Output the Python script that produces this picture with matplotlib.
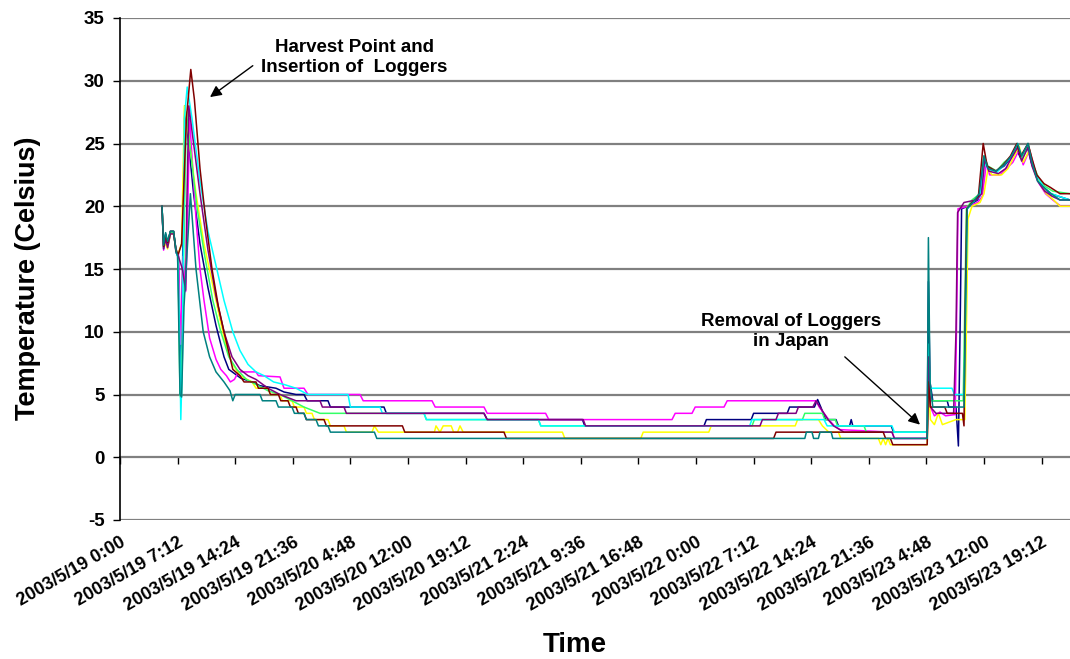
import matplotlib
matplotlib.use('Agg')
import matplotlib.pyplot as plt

# hours after 2003/5/19 0:00, temperature in Celsius
navy = [(5.25, 20.0), (5.45, 16.8), (5.7, 17.8), (5.95, 17.0), (6.3, 18.0), (6.7, 18.0), (7.0, 16.3), (7.3, 16.0),
        (7.55, 6.0), (7.75, 12.0), (8.1, 28.0), (8.5, 25.5), (9.2, 21.0), (10.0, 17.0), (11.0, 13.5), (12.0, 10.5),
        (13.0, 8.0), (13.6, 7.0), (15.1, 6.3), (16.5, 6.0), (17.5, 5.7), (19.5, 5.5), (20.5, 5.2), (22.0, 5.0),
        (23.0, 5.0), (23.4, 4.5), (26.0, 4.5), (26.3, 4.0), (33.0, 4.0), (33.3, 3.5), (45.5, 3.5), (45.9, 3.0),
        (57.8, 3.0), (58.1, 2.5), (73.0, 2.5), (73.3, 3.0), (78.9, 3.0), (79.2, 3.5), (83.4, 3.5), (83.7, 4.0),
        (86.8, 4.0), (87.2, 4.6), (87.6, 4.0), (88.2, 3.0), (89.5, 3.0), (89.8, 2.5), (91.2, 2.5), (91.4, 3.0),
        (91.6, 2.5), (96.4, 2.5), (96.7, 2.0), (100.9, 2.0), (101.05, 14.0), (101.25, 6.0), (101.6, 4.5),
        (103.4, 4.5), (103.6, 4.0), (104.5, 4.0), (104.8, 0.9), (105.05, 12.0), (105.2, 19.8), (106.0, 20.0),
        (107.2, 20.5), (107.6, 21.0), (108.0, 24.0), (108.5, 23.0), (109.5, 22.8), (110.5, 23.2), (111.3, 23.8),
        (112.1, 24.5), (112.6, 23.8), (113.4, 24.8), (113.9, 23.5), (114.6, 22.3), (115.4, 21.5), (116.3, 21.0),
        (118.75, 20.5)]

magenta = [(5.25, 20.0), (5.45, 16.5), (5.7, 17.5), (5.95, 16.8), (6.3, 17.8), (6.7, 17.8), (7.0, 16.5), (7.3, 16.2),
           (7.6, 9.0), (7.9, 16.0), (8.2, 13.2), (8.35, 16.0), (8.7, 27.0), (9.0, 24.0), (9.5, 19.0), (10.0, 15.0),
           (10.5, 12.5), (11.2, 9.5), (12.0, 7.8), (12.6, 7.0), (13.3, 6.5), (13.8, 6.0), (14.3, 6.2), (14.8, 6.8),
           (17.0, 6.8), (17.3, 6.5), (20.0, 6.4), (20.5, 5.5), (23.0, 5.5), (23.5, 5.0), (30.0, 5.0), (30.4, 4.5),
           (39.0, 4.5), (39.4, 4.0), (45.5, 4.0), (45.9, 3.5), (53.2, 3.5), (53.6, 3.0), (69.0, 3.0), (69.4, 3.5),
           (71.5, 3.5), (71.9, 4.0), (75.5, 4.0), (75.9, 4.5), (87.0, 4.5), (87.4, 4.0), (88.0, 3.5), (88.6, 3.0),
           (89.3, 2.5), (90.0, 2.2), (96.5, 2.0), (96.8, 1.5), (100.9, 1.5), (101.05, 7.0), (101.3, 4.0),
           (101.8, 3.3), (102.5, 3.6), (103.2, 3.3), (104.4, 3.4), (104.6, 12.0), (104.75, 19.8), (106.0, 20.0),
           (107.2, 20.3), (107.8, 20.8), (108.3, 23.5), (108.7, 22.5), (110.0, 22.5), (110.8, 23.0), (111.6, 23.5),
           (112.4, 24.5), (112.9, 23.3), (113.7, 24.5), (114.3, 23.0), (114.9, 21.8), (115.7, 21.0), (116.6, 20.5),
           (117.6, 20.0), (118.75, 20.0)]

yellow = [(5.25, 20.0), (5.45, 16.8), (5.7, 17.0), (5.95, 16.6), (6.3, 17.8), (6.7, 17.8), (7.0, 16.5), (7.3, 16.3),
          (7.7, 17.0), (8.05, 28.0), (8.6, 25.5), (9.5, 21.0), (10.5, 17.0), (11.5, 14.0), (12.5, 11.0), (13.3, 8.8),
          (14.0, 7.5), (15.0, 6.5), (16.5, 6.0), (17.0, 5.5), (18.5, 5.5), (18.8, 5.0), (20.0, 5.0), (20.3, 4.5),
          (21.5, 4.5), (21.8, 4.0), (23.0, 4.0), (23.3, 3.5), (24.0, 3.5), (24.3, 3.0), (26.0, 3.0), (26.3, 2.5),
          (28.0, 2.5), (28.3, 2.0), (31.5, 2.0), (31.8, 2.5), (32.3, 2.0), (39.3, 2.0), (39.5, 2.5), (40.0, 2.0),
          (40.4, 2.5), (41.4, 2.5), (41.7, 2.0), (42.2, 2.0), (42.5, 2.5), (42.9, 2.0), (55.3, 2.0), (55.6, 1.5),
          (65.1, 1.5), (65.4, 2.0), (73.6, 2.0), (73.9, 2.5), (84.4, 2.5), (84.7, 3.0), (87.3, 3.0), (87.8, 2.5),
          (88.6, 2.0), (89.8, 2.0), (90.1, 1.5), (94.8, 1.5), (95.1, 1.0), (95.4, 1.5), (95.7, 1.0), (96.0, 1.5),
          (96.3, 1.0), (100.9, 1.0), (101.05, 6.0), (101.3, 3.0), (101.8, 2.6), (102.3, 3.5), (102.8, 2.6),
          (104.5, 3.0), (105.6, 3.0), (105.85, 12.0), (106.0, 19.0), (106.5, 20.0), (107.5, 20.3), (108.0, 21.0),
          (108.5, 23.0), (109.0, 22.5), (110.2, 22.5), (111.0, 23.0), (111.8, 24.0), (112.4, 24.8), (112.9, 23.5),
          (113.7, 24.5), (114.3, 22.8), (115.0, 21.8), (115.8, 21.0), (116.7, 20.5), (117.5, 20.0), (118.75, 20.0)]

green = [(5.25, 20.0), (5.45, 16.7), (5.7, 17.5), (5.95, 16.9), (6.3, 17.9), (6.7, 17.9), (7.0, 16.5), (7.25, 16.0),
         (7.5, 5.0), (7.65, 4.5), (7.9, 14.0), (8.3, 27.5), (8.8, 24.5), (9.6, 20.0), (10.6, 16.0), (11.6, 12.5),
         (12.6, 10.0), (13.6, 8.0), (14.6, 7.0), (15.8, 6.2), (17.0, 5.8), (18.5, 5.3), (20.0, 5.0), (21.5, 4.5),
         (23.0, 4.0), (25.0, 3.5), (38.0, 3.5), (38.3, 3.0), (52.3, 3.0), (52.6, 2.5), (79.0, 2.5), (79.3, 3.0),
         (85.3, 3.0), (85.6, 3.5), (87.8, 3.5), (88.1, 3.0), (89.4, 3.0), (89.7, 2.5), (93.0, 2.5), (93.3, 2.0),
         (100.9, 2.0), (101.05, 9.0), (101.3, 4.5), (105.4, 4.5), (105.6, 12.0), (105.8, 19.8), (106.5, 20.5),
         (107.5, 21.0), (108.0, 24.0), (108.5, 23.2), (109.6, 22.8), (110.5, 23.5), (111.5, 24.0), (112.2, 24.8),
         (112.7, 23.8), (113.5, 24.8), (114.0, 23.5), (114.8, 22.3), (115.6, 21.6), (116.6, 21.2), (118.75, 21.0)]

cyan = [(5.25, 20.0), (5.45, 16.6), (5.7, 17.6), (5.95, 17.0), (6.3, 18.0), (6.7, 18.0), (7.0, 16.4), (7.2, 16.0),
        (7.45, 10.0), (7.6, 3.0), (7.8, 8.0), (8.05, 27.0), (8.4, 29.5), (9.0, 27.0), (10.0, 22.0), (11.0, 18.0),
        (12.1, 15.0), (13.0, 12.5), (14.1, 10.0), (15.0, 8.5), (16.0, 7.4), (17.0, 6.8), (18.0, 6.5), (19.2, 6.0),
        (20.5, 5.8), (22.0, 5.5), (23.5, 5.0), (28.5, 5.0), (28.8, 4.0), (32.5, 4.0), (32.8, 3.5), (38.0, 3.5),
        (38.3, 3.0), (52.3, 3.0), (52.6, 2.5), (78.7, 2.5), (79.0, 3.0), (88.0, 3.0), (88.4, 2.5), (96.5, 2.5),
        (96.8, 2.0), (100.9, 2.0), (101.05, 9.0), (101.25, 5.5), (104.0, 5.5), (104.3, 5.0), (105.5, 5.0),
        (105.7, 12.0), (105.9, 19.8), (106.6, 20.3), (107.5, 20.8), (108.0, 23.5), (108.5, 23.0), (109.6, 22.7),
        (110.5, 23.3), (111.5, 24.0), (112.2, 25.0), (112.7, 24.0), (113.5, 25.0), (114.0, 23.5), (114.7, 22.3),
        (115.5, 21.5), (116.4, 21.0), (118.75, 20.5)]

purple = [(5.25, 20.0), (5.45, 16.6), (5.7, 17.4), (5.95, 16.7), (6.3, 17.8), (6.7, 17.8), (7.0, 16.6), (7.3, 16.0),
          (7.8, 15.0), (8.2, 13.3), (8.35, 20.0), (8.6, 28.0), (9.0, 26.0), (10.0, 21.0), (11.0, 16.5), (12.0, 12.8),
          (13.0, 10.0), (14.0, 8.0), (15.0, 7.0), (16.0, 6.5), (17.0, 6.2), (18.5, 5.5), (20.0, 5.0), (22.0, 4.5),
          (25.0, 4.5), (25.3, 4.0), (28.0, 4.0), (28.3, 3.5), (45.5, 3.5), (45.9, 3.0), (57.9, 3.0), (58.2, 2.5),
          (80.0, 2.5), (80.3, 3.0), (82.0, 3.0), (82.3, 3.5), (84.5, 3.5), (84.8, 4.0), (86.6, 4.0), (87.0, 4.5),
          (87.5, 4.0), (88.0, 3.5), (88.5, 3.0), (89.2, 2.5), (90.5, 2.0), (96.5, 2.0), (96.8, 1.5), (100.9, 1.5),
          (101.05, 8.0), (101.3, 4.0), (102.0, 3.5), (104.2, 3.5), (104.5, 10.0), (104.7, 19.5), (105.5, 20.3),
          (107.0, 20.5), (107.7, 21.0), (108.1, 23.8), (108.6, 22.8), (109.8, 22.6), (110.7, 23.0), (111.4, 23.8),
          (112.2, 24.7), (112.7, 23.6), (113.5, 24.7), (114.0, 23.2), (114.7, 22.0), (115.6, 21.2), (116.5, 20.8),
          (117.5, 20.5), (118.75, 20.5)]

maroon = [(5.25, 20.0), (5.45, 16.8), (5.7, 17.7), (5.95, 17.1), (6.3, 18.0), (6.7, 18.0), (7.0, 16.4), (7.3, 16.2),
          (7.7, 17.0), (8.3, 27.0), (8.85, 30.9), (9.3, 28.5), (10.0, 23.0), (10.7, 19.0), (11.5, 15.0), (12.3, 12.0),
          (13.0, 10.0), (14.1, 7.0), (15.0, 6.5), (15.5, 6.0), (17.0, 6.0), (17.3, 5.5), (18.5, 5.5), (18.8, 5.0),
          (19.8, 5.0), (20.1, 4.5), (21.0, 4.5), (21.3, 4.0), (22.0, 4.0), (22.3, 3.5), (23.0, 3.5), (23.3, 3.0),
          (25.5, 3.0), (25.8, 2.5), (35.3, 2.5), (35.6, 2.0), (48.0, 2.0), (48.3, 1.5), (81.7, 1.5), (82.0, 2.0),
          (95.4, 2.0), (95.7, 1.5), (96.3, 1.5), (96.6, 1.0), (100.9, 1.0), (101.05, 6.0), (101.3, 4.0), (103.1, 4.0),
          (103.4, 3.5), (105.3, 3.5), (105.5, 2.5), (105.65, 12.0), (105.85, 19.8), (106.5, 20.3), (107.3, 20.8),
          (107.9, 25.0), (108.4, 23.2), (109.5, 22.8), (110.4, 23.3), (111.3, 24.0), (112.1, 25.0), (112.6, 24.0),
          (113.5, 25.0), (114.0, 23.8), (114.6, 22.5), (115.5, 21.8), (116.3, 21.5), (117.5, 21.0), (118.75, 21.0)]

teal = [(5.25, 20.0), (5.45, 16.9), (5.7, 17.9), (5.95, 17.2), (6.3, 18.0), (6.7, 18.0), (7.0, 16.5), (7.2, 16.0),
        (7.5, 5.0), (7.7, 4.8), (8.0, 12.0), (8.8, 21.0), (9.5, 15.0), (10.4, 10.0), (11.2, 8.0), (12.0, 6.8),
        (13.0, 6.0), (13.75, 5.3), (14.1, 4.5), (14.4, 5.0), (17.5, 5.0), (17.8, 4.5), (19.5, 4.5), (19.8, 4.0),
        (21.5, 4.0), (21.8, 3.5), (23.0, 3.5), (23.3, 3.0), (24.5, 3.0), (24.8, 2.5), (26.0, 2.5), (26.3, 2.0),
        (31.8, 2.0), (32.1, 1.5), (85.6, 1.5), (85.8, 2.0), (86.5, 2.0), (86.7, 1.5), (87.3, 1.5), (87.5, 2.0),
        (88.9, 2.0), (89.1, 1.5), (100.9, 1.5), (101.05, 17.5), (101.25, 6.0), (101.6, 4.0), (105.5, 4.0),
        (105.7, 12.0), (105.9, 19.8), (106.6, 20.3), (107.4, 21.0), (108.0, 24.0), (108.5, 23.0), (109.5, 22.8),
        (110.5, 23.3), (111.4, 24.0), (112.2, 25.0), (112.7, 24.0), (113.5, 25.0), (114.0, 23.5), (114.7, 22.0),
        (115.5, 21.5), (116.4, 21.0), (117.5, 20.5), (118.75, 20.5)]

series = [(navy, '#000080'), (magenta, '#FF00FF'), (yellow, '#FFFF00'), (green, '#33FF66'),
          (cyan, '#00FFFF'), (purple, '#800080'), (maroon, '#800000'), (teal, '#008080')]

tick_hours = [0, 7.2, 14.4, 21.6, 28.8, 36, 43.2, 50.4, 57.6, 64.8, 72, 79.2, 86.4, 93.6, 100.8, 108, 115.2]
tick_labels = ['2003/5/19 0:00', '2003/5/19 7:12', '2003/5/19 14:24', '2003/5/19 21:36',
               '2003/5/20 4:48', '2003/5/20 12:00', '2003/5/20 19:12', '2003/5/21 2:24',
               '2003/5/21 9:36', '2003/5/21 16:48', '2003/5/22 0:00', '2003/5/22 7:12',
               '2003/5/22 14:24', '2003/5/22 21:36', '2003/5/23 4:48', '2003/5/23 12:00',
               '2003/5/23 19:12']

plt.rcParams['font.family'] = ['Liberation Sans', 'DejaVu Sans']
plt.rcParams['font.weight'] = 'bold'
plt.rcParams['axes.unicode_minus'] = False

fig = plt.figure(figsize=(10.7, 6.59), dpi=100)
ax = fig.add_axes([120 / 1070, 1 - 520 / 659, 950 / 1070, 502 / 659])

for pts, col in series:
    hrs = [p[0] for p in pts]
    vals = [p[1] for p in pts]
    ax.plot(hrs, vals, color=col, lw=1.1, solid_joinstyle='round')

ax.set_xlim(0, 118.75)
ax.set_ylim(-5, 35)
ax.set_yticks(range(-5, 40, 5))
ax.yaxis.grid(True, color='#808080', lw=1.6)
ax.set_axisbelow(True)
ax.tick_params(axis='y', direction='out', length=5, width=1, labelsize=13.5, pad=6)
for lab in ax.get_yticklabels():
    lab.set_fontweight('bold')

for s in ['top', 'right', 'bottom']:
    ax.spines[s].set_visible(False)
ax.spines['left'].set_linewidth(1.2)

# tick labels sit at the bottom, tick marks on the zero line
ax.set_xticks(tick_hours)
ax.set_xticklabels(tick_labels, rotation=30, ha='right', rotation_mode='anchor', fontsize=13, fontweight='bold')
ax.tick_params(axis='x', length=0, pad=10)

zero_axis = ax.secondary_xaxis(0.125)
zero_axis.set_xticks(tick_hours)
zero_axis.set_xticklabels([])
zero_axis.tick_params(axis='x', direction='out', length=5, width=1, color='black')
zero_axis.spines['bottom'].set_linewidth(1.2)

arrow = dict(arrowstyle='-|>', color='black', lw=1, mutation_scale=17, shrinkA=0, shrinkB=0)
ax.text(29.3, 31.85, 'Harvest Point and\nInsertion of  Loggers', ha='center', va='center',
        fontsize=13.5, fontweight='bold', linespacing=1.25)
ax.annotate('', xy=(11.25, 28.7), xytext=(16.6, 31.2), arrowprops=arrow)
ax.text(83.9, 10.0, 'Removal of Loggers\nin Japan', ha='center', va='center',
        fontsize=13.5, fontweight='bold', linespacing=1.25)
ax.annotate('', xy=(100.0, 2.6), xytext=(90.6, 8.0), arrowprops=arrow)

fig.text(28 / 1070, 1 - 278 / 659, 'Temperature (Celsius)', rotation=90, ha='center', va='center',
         fontsize=19.5, fontweight='bold')
fig.text(575 / 1070, 1 - 645 / 659, 'Time', ha='center', va='center', fontsize=20, fontweight='bold')

fig.savefig('out.png', dpi=100, facecolor='white')
